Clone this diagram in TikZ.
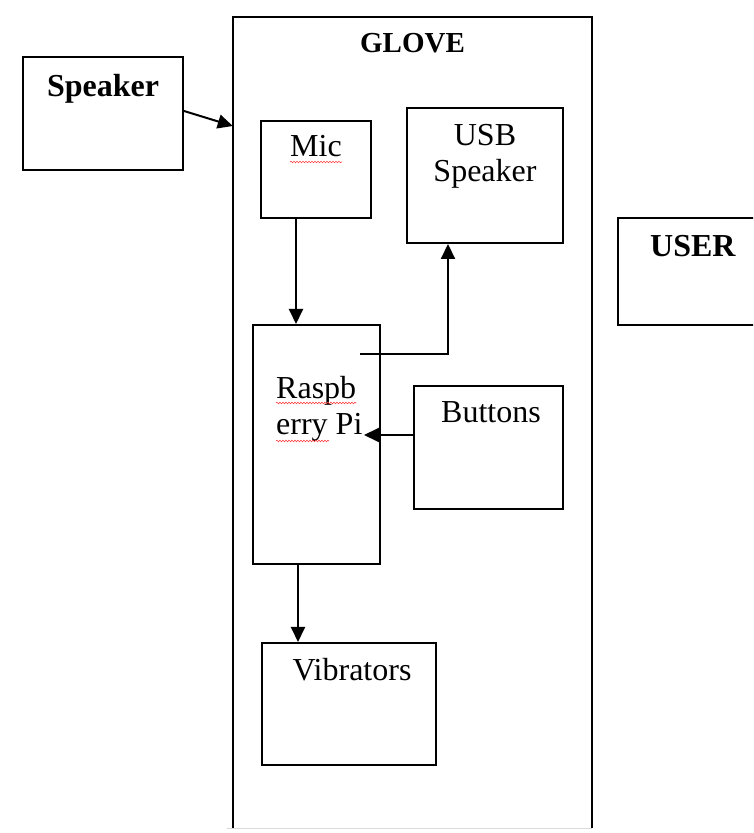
\documentclass[tikz,border=0pt]{standalone}
\usepackage{fontspec}
\setmainfont{Liberation Serif}
\usetikzlibrary{arrows.meta,positioning,calc,decorations.pathmorphing}

\begin{document}
\begin{tikzpicture}[x=1pt, y=1pt,
  box/.style={draw, line width=2pt, inner sep=0pt},
  lbl/.style={inner sep=0pt, font=\fontsize{32}{36}\selectfont, align=center},
  hdr/.style={inner sep=0pt, font=\fontsize{32}{36}\selectfont\bfseries},
  arr/.style={-{Triangle[length=15pt,width=14pt]}, line width=2pt},
  squig/.style={red!75, line width=0.6pt, decorate,
                decoration={snake, amplitude=0.8pt, segment length=3pt}}]

\useasboundingbox (0,0) rectangle (753,833);
\clip (0,0) rectangle (753,833);

% boxes
\node[box, minimum width=160pt, minimum height=113pt] (speaker) at (103,719.5) {};
\node[inner sep=0pt, minimum width=359pt, minimum height=811pt] (glove) at (412.5,410.5) {};
\node[box, minimum width=110pt, minimum height=97pt]  (mic)     at (316,663.5) {};
\node[box, minimum width=156pt, minimum height=135pt] (usb)     at (485,657.5) {};
\node[box, minimum width=127pt, minimum height=239pt] (pi)      at (316.5,388.5) {};
\node[box, minimum width=149pt, minimum height=123pt] (buttons) at (488.5,385.5) {};
\node[box, minimum width=174pt, minimum height=122pt] (vib)     at (349,129) {};
\node[box, minimum width=172pt, minimum height=107pt] (user)    at (704,561.5) {};

\draw[line width=2pt] (glove.south west) -- (glove.north west)
  -- (glove.north east) -- (glove.south east);
\draw[black!15, line width=1pt] ([xshift=-6pt]glove.south west) -- (glove.south east);

% texts
\node[hdr, anchor=base] (speakertxt) at ([yshift=-41pt]speaker.north) {Speaker};
\node[hdr, font=\fontsize{29}{34}\selectfont\bfseries, anchor=base] (glovetxt)
  at ([yshift=-36pt]glove.north) {GLOVE};
\node[lbl, anchor=base] (mictxt) at ([yshift=-37pt]mic.north) {Mic};
\node[lbl, anchor=base] (usbtxt) at ([yshift=-75pt]usb.north) {USB\\Speaker};
\node[lbl, anchor=base west] (pitxt1) at ([xshift=24pt,yshift=-75pt]pi.north west) {Raspb};
\node[lbl, anchor=base west] (pitxt2) at ([yshift=-36pt]pitxt1.base west) {erry Pi};
\node[lbl, anchor=base] (buttonstxt) at ([xshift=2.5pt,yshift=-38pt]buttons.north) {Buttons};
\node[lbl, anchor=base] (vibtxt) at ([xshift=3pt,yshift=-39pt]vib.north) {Vibrators};
\node[hdr, anchor=base west] (usertxt) at ([xshift=33pt,yshift=-40pt]user.north west) {USER};

% spell-check marks
\draw[squig] ([yshift=-5pt]mictxt.base west) -- ([yshift=-5pt]mictxt.base east);
\draw[squig] ([yshift=-4pt]pitxt1.base west) -- ([yshift=-4pt]pitxt1.base east);
\draw[squig] ([yshift=-6pt]pitxt2.base west) -- ([xshift=53pt,yshift=-6pt]pitxt2.base west);

% connectors
\draw[arr] ([yshift=2.5pt]speaker.east) -- ($(speaker.east -| glove.west)+(0,-12.5)$);
\draw[arr] ([xshift=-20pt]mic.south) -- ($(mic.south |- pi.north)+(-20,0)$);
\draw[arr] ([xshift=43.5pt,yshift=-30pt]pi.north) -| ([xshift=-37pt]usb.south);
\draw[arr] ([yshift=12.5pt]buttons.west) -- ($(buttons.west -| pi.east)+(-17,12.5)$);
\draw[arr] ([xshift=-18.5pt]pi.south) -- ($(pi.south |- vib.north)+(-18.5,0)$);
\end{tikzpicture}
\end{document}
